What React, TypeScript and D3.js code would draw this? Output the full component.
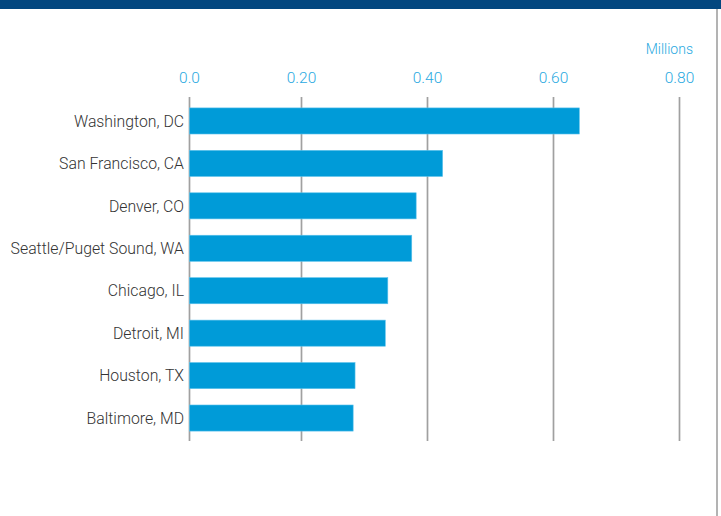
import React from "react";
import * as d3 from "d3";

const categories = [
  "Washington, DC",
  "San Francisco, CA",
  "Denver, CO",
  "Seattle/Puget Sound, WA",
  "Chicago, IL",
  "Detroit, MI",
  "Houston, TX",
  "Baltimore, MD",
];
const values = [0.641, 0.424, 0.382, 0.375, 0.337, 0.333, 0.285, 0.282];
const ticks = [0, 0.2, 0.4, 0.6, 0.8];
const tickLabels = ["0.0", "0.20", "0.40", "0.60", "0.80"];
const unitLabel = "Millions";

const W = 721;
const H = 516;

export default function App() {
  const x = d3.scaleLinear().domain([0, 0.2, 0.8]).range([189.5, 301.5, 679.5]);
  const y = d3
    .scaleBand<string>()
    .domain(categories)
    .range([99, 440])
    .paddingInner(0.385)
    .paddingOuter(0.21);
  const gridTop = 97;
  const gridBottom = 441;
  const font = "Roboto, 'Noto Sans', sans-serif";
  return (
    <div style={{ position: "fixed", left: 0, top: 0 }}>
      <svg width={W} height={H} style={{ display: "block" }}>
        <rect x={0} y={0} width={W} height={H} fill="#ffffff" />
        <rect x={0} y={0} width={W} height={9} fill="#03477f" />
        <line x1={717} x2={717} y1={9} y2={H} stroke="#9a9a9a" strokeWidth={1.5} />
        {ticks.map((t, i) => (
          <g key={i}>
            <line
              x1={x(t)}
              x2={x(t)}
              y1={gridTop}
              y2={gridBottom}
              stroke="#a0a0a0"
              strokeWidth={1.7}
            />
            <text
              x={x(t)}
              y={83}
              textAnchor="middle"
              fontFamily={font}
              fontWeight={300}
              fontSize={15.5}
              fill="#29a9e1"
            >
              {tickLabels[i]}
            </text>
          </g>
        ))}
        <text
          x={693}
          y={54}
          textAnchor="end"
          fontFamily={font}
          fontWeight={300}
          fontSize={14}
          fill="#29a9e1"
        >
          {unitLabel}
        </text>
        {categories.map((c, i) => (
          <g key={c}>
            <rect
              x={x(0)}
              y={y(c)!}
              width={x(values[i]) - x(0)}
              height={y.bandwidth()}
              fill="#009bd8"
              stroke="#5cc2ec"
              strokeWidth={0.6}
            />
            <text
              x={184}
              y={y(c)! + y.bandwidth() / 2}
              dy="0.36em"
              textAnchor="end"
              fontFamily={font}
              fontWeight={300}
              fontSize={15.8}
              fill="#333333"
            >
              {c}
            </text>
          </g>
        ))}
      </svg>
    </div>
  );
}
